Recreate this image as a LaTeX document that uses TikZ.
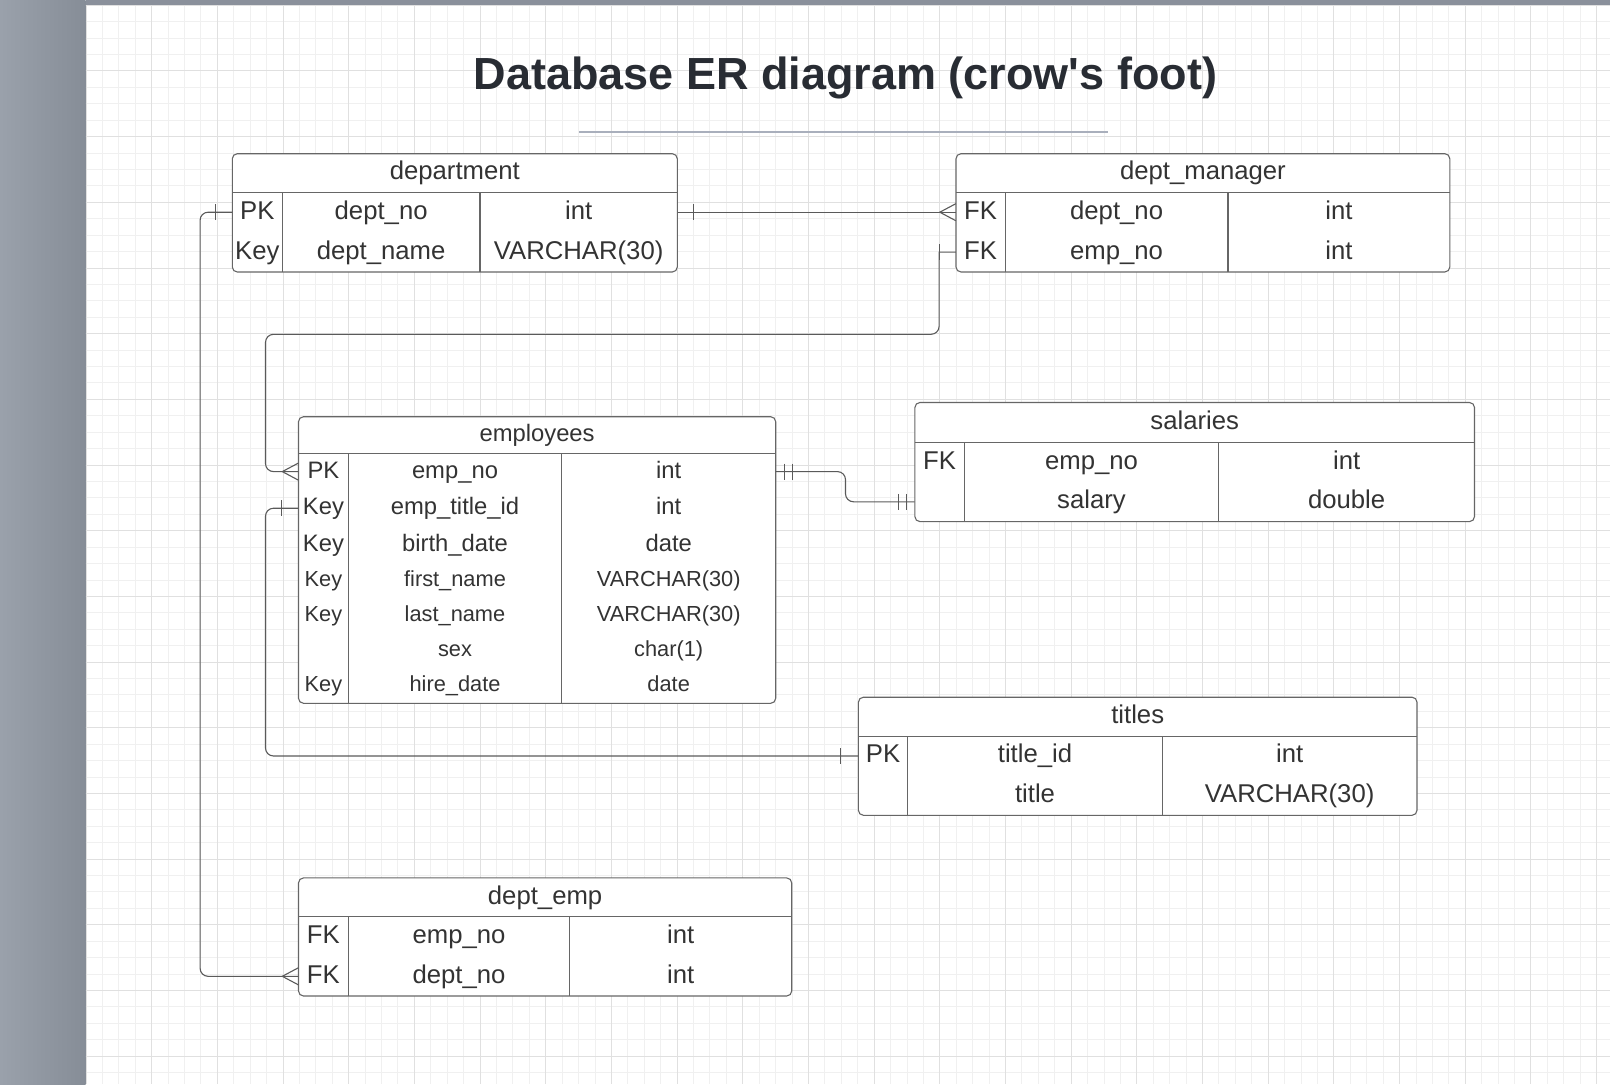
\documentclass[tikz,border=0pt]{standalone}
\usepackage{fontspec}
\usepackage{tikz}
\usepackage{xcolor}
\setmainfont{Liberation Sans}

\definecolor{panel}{HTML}{9AA1AB}
\definecolor{paneldark}{HTML}{868D97}
\definecolor{topbar}{HTML}{8A909B}
\definecolor{gridminor}{HTML}{F0F0F0}
\definecolor{gridmajor}{HTML}{E0E0E0}
\definecolor{framecol}{HTML}{666666}
\definecolor{linkcol}{HTML}{5A5A5A}
\definecolor{txt}{HTML}{333333}
\definecolor{titlecol}{HTML}{282C33}
\definecolor{rulecol}{HTML}{A9AFBC}

\newcommand{\fntitle}{\fontsize{45bp}{54bp}\selectfont\bfseries}
\newcommand{\fnbig}{\fontsize{25.7bp}{30bp}\selectfont}
\newcommand{\fnmid}{\fontsize{23.8bp}{28bp}\selectfont}
\newcommand{\fnsmall}{\fontsize{21.8bp}{26bp}\selectfont}

\tikzset{
    cell/.style={inner sep=0pt, text=txt, font=\fnbig, text height=18.5bp, text depth=4.6bp, minimum height=38bp},
    cellmid/.style={cell, font=\fnmid, text height=17.1bp, text depth=4.2bp, minimum height=35bp},
    cellsmall/.style={cell, font=\fnsmall, text height=15.7bp, text depth=3.9bp, minimum height=34bp},
    tablebox/.style={draw=framecol, line width=1.1bp, fill=white, rounded corners=5bp},
    colline/.style={draw=framecol, line width=1.1bp},
    link/.style={draw=linkcol, line width=1.1bp},
    gridfine/.style={draw=gridminor, line width=1bp},
    gridbold/.style={draw=gridmajor, line width=1bp},
    onebar/.pic={\draw[link] (0,-8) -- (0,8);},
    crowfoot/.pic={\draw[link] (0,-8.5) -- (-16,0) -- (0,8.5);}
}

\begin{document}
\begin{tikzpicture}[x=1bp, y=-1bp]
    \useasboundingbox (0,0) rectangle (1610,1084);

    % Background and grid
    \shade[left color=panel, right color=paneldark] (0,0) rectangle (85.5,1084);
    \fill[topbar] (85.5,0) rectangle (1610,5.5);
    \foreach \i in {0,...,92}
        \draw[gridfine] ({86+16.42*\i},5.5) -- ({86+16.42*\i},1084);
    \foreach \j in {0,...,65}
        \draw[gridfine] (85.5,{5.3+16.42*\j}) -- (1610,{5.3+16.42*\j});
    \foreach \i in {0,...,23}
        \draw[gridbold] ({86+65.68*\i},5.5) -- ({86+65.68*\i},1084);
    \foreach \j in {0,...,16}
        \draw[gridbold] (85.5,{5.3+65.68*\j}) -- (1610,{5.3+65.68*\j});

    % Title
    \node[font=\fntitle, text=titlecol, anchor=base, inner sep=0pt] (title) at (845.5,89.5) {Database ER diagram (crow\textquotesingle s foot)};
    \draw[draw=rulecol, line width=2bp] (579,131.7) -- (1107.5,131.7);

    % department
    \draw[tablebox] (232.3,153.7) rectangle (677.3,272);
    \draw[colline] (232.3,192.3) -- (677.3,192.3) (282.3,192.3) -- (282.3,272) (480,192.3) -- (480,272);
    \node[cell, minimum width=445bp] (dept) at (454.8,173) {department};
    \foreach \k/\n/\t [count=\i] in {PK/dept\_no/int, Key/dept\_name/VARCHAR(30)} {
        \node[cell, minimum width=50bp] (dept-k\i) at (257.3,{172.3+39.9*\i}) {\k};
        \node[cell, minimum width=197.7bp] (dept-n\i) at (381.15,{172.3+39.9*\i}) {\n};
        \node[cell, minimum width=197.3bp] (dept-t\i) at (578.65,{172.3+39.9*\i}) {\t};
    }

    % dept_manager
    \draw[tablebox] (956,153.7) rectangle (1449.8,272);
    \draw[colline] (956,192.3) -- (1449.8,192.3) (1005.2,192.3) -- (1005.2,272) (1228,192.3) -- (1228,272);
    \node[cell, minimum width=493.8bp] (mgr) at (1202.9,173) {dept\_manager};
    \foreach \k/\n/\t [count=\i] in {FK/dept\_no/int, FK/emp\_no/int} {
        \node[cell, minimum width=49.2bp] (mgr-k\i) at (980.6,{172.3+39.9*\i}) {\k};
        \node[cell, minimum width=222.8bp] (mgr-n\i) at (1116.6,{172.3+39.9*\i}) {\n};
        \node[cell, minimum width=221.8bp] (mgr-t\i) at (1338.9,{172.3+39.9*\i}) {\t};
    }

    % employees
    \draw[tablebox] (298.5,416.7) rectangle (775.7,703.3);
    \draw[colline] (298.5,453.7) -- (775.7,453.7) (348.3,453.7) -- (348.3,703.3) (561.7,453.7) -- (561.7,703.3);
    \node[cellmid, minimum width=477.2bp] (emp) at (537.1,435.2) {employees};
    \foreach \k/\n/\t [count=\i] in {PK/emp\_no/int, Key/emp\_title\_id/int, Key/birth\_date/date} {
        \node[cellmid, minimum width=49.8bp] (emp-k\i) at (323.4,{435+36.6*\i}) {\k};
        \node[cellmid, minimum width=213.4bp] (emp-n\i) at (455,{435+36.6*\i}) {\n};
        \node[cellmid, minimum width=214bp] (emp-t\i) at (668.7,{435+36.6*\i}) {\t};
    }
    \foreach \k/\n/\t [count=\i from 4] in {Key/first\_name/VARCHAR(30), Key/last\_name/VARCHAR(30), {}/sex/char(1), Key/hire\_date/date} {
        \node[cellsmall, minimum width=49.8bp] (emp-k\i) at (323.4,{441.8+34.8*\i}) {\k};
        \node[cellsmall, minimum width=213.4bp] (emp-n\i) at (455,{441.8+34.8*\i}) {\n};
        \node[cellsmall, minimum width=214bp] (emp-t\i) at (668.7,{441.8+34.8*\i}) {\t};
    }

    % salaries
    \draw[tablebox] (914.9,402.5) rectangle (1474.5,521.6);
    \draw[colline] (914.9,442.6) -- (1474.5,442.6) (964.2,442.6) -- (964.2,521.6) (1218.8,442.6) -- (1218.8,521.6);
    \node[cell, minimum width=559.6bp] (sal) at (1194.7,422.5) {salaries};
    \foreach \k/\n/\t [count=\i] in {FK/emp\_no/int, {}/salary/double} {
        \node[cell, minimum width=49.3bp] (sal-k\i) at (939.55,{422.8+39.5*\i}) {\k};
        \node[cell, minimum width=254.6bp] (sal-n\i) at (1091.5,{422.8+39.5*\i}) {\n};
        \node[cell, minimum width=255.7bp] (sal-t\i) at (1346.65,{422.8+39.5*\i}) {\t};
    }

    % titles
    \draw[tablebox] (858.4,697.2) rectangle (1417,815.3);
    \draw[colline] (858.4,736.2) -- (1417,736.2) (907.7,736.2) -- (907.7,815.3) (1162.3,736.2) -- (1162.3,815.3);
    \node[cell, minimum width=558.6bp] (tit) at (1137.7,716.7) {titles};
    \foreach \k/\n/\t [count=\i] in {PK/title\_id/int, {}/title/VARCHAR(30)} {
        \node[cell, minimum width=49.3bp] (tit-k\i) at (883.05,{716.5+39.5*\i}) {\k};
        \node[cell, minimum width=254.6bp] (tit-n\i) at (1035,{716.5+39.5*\i}) {\n};
        \node[cell, minimum width=254.7bp] (tit-t\i) at (1289.65,{716.5+39.5*\i}) {\t};
    }

    % dept_emp
    \draw[tablebox] (298.5,877.9) rectangle (791.7,996);
    \draw[colline] (298.5,916.9) -- (791.7,916.9) (348.1,916.9) -- (348.1,996) (569.9,916.9) -- (569.9,996);
    \node[cell, minimum width=493.2bp] (de) at (545.1,897.4) {dept\_emp};
    \foreach \k/\n/\t [count=\i] in {FK/emp\_no/int, FK/dept\_no/int} {
        \node[cell, minimum width=49.6bp] (de-k\i) at (323.3,{897.1+39.6*\i}) {\k};
        \node[cell, minimum width=221.8bp] (de-n\i) at (459,{897.1+39.6*\i}) {\n};
        \node[cell, minimum width=221.8bp] (de-t\i) at (680.8,{897.1+39.6*\i}) {\t};
    }

    % Relationships
    \draw[link] (dept-t1.east) -- (mgr-k1.west);
    \pic at ([xshift=16bp]dept-t1.east) {onebar};
    \pic at (mgr-k1.west) {crowfoot};

    \draw[link] (mgr-k2.west) -- ++(-16.7,0) [rounded corners=8bp] -- ++(0,82.2) -| ([xshift=-32.8bp]emp-k1.west) -- (emp-k1.west);
    \pic at ([xshift=-16.7bp]mgr-k2.west) {onebar};
    \pic at (emp-k1.west) {crowfoot};

    \draw[link, rounded corners=8bp] (tit-k1.west) -| ([xshift=-32.8bp]emp-k2.west) -- (emp-k2.west);
    \pic at ([xshift=-17.4bp]tit-k1.west) {onebar};
    \pic at ([xshift=-16.8bp]emp-k2.west) {onebar};

    \draw[link, rounded corners=8bp] (emp-t1.east) -| ([xshift=-69.2bp]sal-k2.west) -- (sal-k2.west);
    \pic at ([xshift=8.6bp]emp-t1.east) {onebar};
    \pic at ([xshift=16.6bp]emp-t1.east) {onebar};
    \pic at ([xshift=-8.2bp]sal-k2.west) {onebar};
    \pic at ([xshift=-15.9bp]sal-k2.west) {onebar};

    \draw[link, rounded corners=8bp] (dept-k1.west) -- ++(-32,0) |- (de-k2.west);
    \pic at ([xshift=-16.3bp]dept-k1.west) {onebar};
    \pic at (de-k2.west) {crowfoot};
\end{tikzpicture}
\end{document}
